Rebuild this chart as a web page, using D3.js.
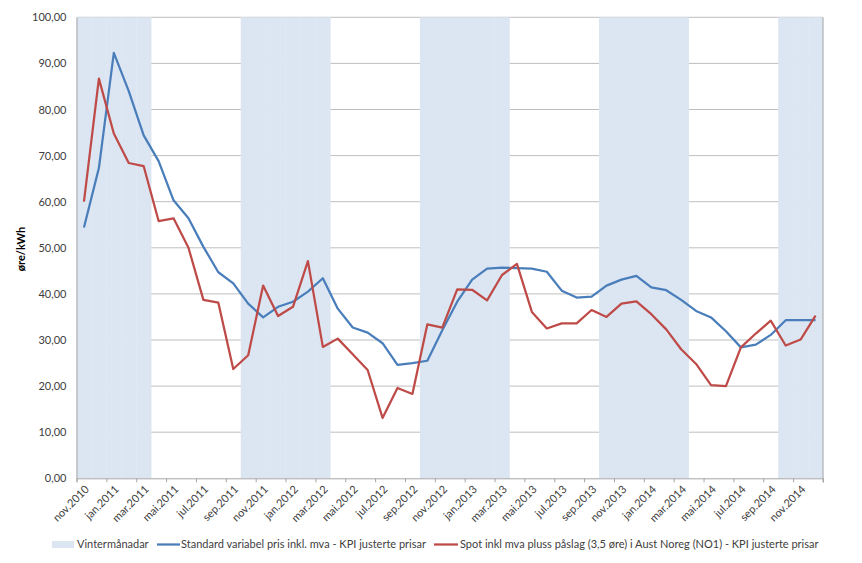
<!DOCTYPE html>
<html><head><meta charset="utf-8">
<script src="https://cdn.jsdelivr.net/npm/d3@7"></script>
<style>body{margin:0;background:#fff}svg{display:block}text{font-family:Lato,"Open Sans",sans-serif;fill:#404040}</style>
</head><body><div id="chart"></div>
<script>
const months = ["nov.2010","des.2010","jan.2011","feb.2011","mar.2011","apr.2011","mai.2011","jun.2011","jul.2011","aug.2011","sep.2011","okt.2011",
"nov.2011","des.2011","jan.2012","feb.2012","mar.2012","apr.2012","mai.2012","jun.2012","jul.2012","aug.2012","sep.2012","okt.2012",
"nov.2012","des.2012","jan.2013","feb.2013","mar.2013","apr.2013","mai.2013","jun.2013","jul.2013","aug.2013","sep.2013","okt.2013",
"nov.2013","des.2013","jan.2014","feb.2014","mar.2014","apr.2014","mai.2014","jun.2014","jul.2014","aug.2014","sep.2014","okt.2014",
"nov.2014","des.2014"];
const winter = [100,100,100,100,100,0,0,0,0,0,0,100,100,100,100,100,100,0,0,0,0,0,0,100,100,100,100,100,100,0,0,0,0,0,0,100,100,100,100,100,100,0,0,0,0,0,0,100,100,100];
const standard = [54.4,67.3,92.3,84.0,74.4,68.8,60.3,56.4,50.2,44.7,42.3,37.9,34.9,37.2,38.3,40.5,43.4,36.8,32.7,31.6,29.3,24.6,25.0,25.5,32.1,38.3,43.1,45.5,45.7,45.6,45.5,44.8,40.7,39.2,39.4,41.8,43.1,43.9,41.4,40.8,38.7,36.3,34.9,31.9,28.4,29.0,31.1,34.3,34.3,34.3];
const spot = [60.0,86.7,74.8,68.4,67.7,55.8,56.4,50.0,38.7,38.1,23.7,26.7,41.8,35.2,37.2,47.1,28.5,30.3,26.9,23.5,13.1,19.6,18.3,33.4,32.7,41.0,40.9,38.6,44.1,46.5,36.1,32.5,33.6,33.6,36.5,35.0,37.9,38.4,35.6,32.3,28.0,24.8,20.2,20.0,28.4,31.4,34.2,28.8,30.1,35.3];
const yTicks = [0,10,20,30,40,50,60,70,80,90,100];
const seriesNames = ["Vintermånadar","Standard variabel pris inkl. mva - KPI justerte prisar","Spot inkl mva pluss påslag (3,5 øre) i Aust Noreg (NO1) - KPI justerte prisar"];
const colors = {winter:"#DCE6F2", standard:"#4A7EBB", spot:"#BE4B48"};

const W=862,H=563, L=76.5, R=823, T=17.3, B=478.3;
const svg = d3.select("#chart").append("svg").attr("width",W).attr("height",H);
const x = d3.scaleBand().domain(d3.range(months.length)).range([L,R]).padding(0);
const y = d3.scaleLinear().domain([0,100]).range([B,T]);
const fmt = v => d3.format(".2f")(v).replace(".",",");

// gridlines
svg.append("g").selectAll("line").data(yTicks.filter(d=>d>0)).join("line")
  .attr("x1",L).attr("x2",R).attr("y1",d=>y(d)).attr("y2",d=>y(d))
  .attr("stroke","#BFBFBF").attr("stroke-width",1);
// winter bars
svg.append("g").selectAll("rect").data(winter.map((v,i)=>({v,i})).filter(d=>d.v>0)).join("rect")
  .attr("x",d=>x(d.i)).attr("width",x.bandwidth()+0.3).attr("y",d=>y(d.v)).attr("height",d=>y(0)-y(d.v))
  .attr("fill",colors.winter);

// y axis
const yAxis = d3.axisLeft(y).tickValues(yTicks).tickFormat(fmt).tickSize(0).tickPadding(10);
const gy = svg.append("g").attr("transform",`translate(${L},0)`).call(yAxis);
gy.select(".domain").attr("stroke","#A6A6A6");
gy.selectAll("text").style("font-size","11px").style("font-family","Lato, sans-serif").attr("fill","#404040");
// right line
svg.append("line").attr("x1",R).attr("x2",R).attr("y1",T).attr("y2",B+4).attr("stroke","#A6A6A6");

// x axis
const xb = d3.scaleLinear().domain([0,months.length]).range([L,R]);
const gx = svg.append("g").attr("transform",`translate(0,${B})`)
  .call(d3.axisBottom(xb).tickValues(d3.range(0,months.length+1,2)).tickFormat("").tickSize(4));
gx.select(".domain").attr("stroke","#A6A6A6");
gx.selectAll("line").attr("stroke","#A6A6A6");
svg.append("g").selectAll("text").data(months.map((m,i)=>({m,i})).filter(d=>d.i%2===0)).join("text")
  .attr("transform",d=>`translate(${x(d.i)+x.bandwidth()/2+3},${B+9}) rotate(-45)`)
  .attr("text-anchor","end").attr("dy","0.35em").style("font-size","11px").text(d=>d.m);

// y title
svg.append("text").attr("transform",`translate(25,249) rotate(-90)`).attr("text-anchor","middle")
  .style("font-size","11px").style("font-weight","bold").style("fill","#000").text("øre/kWh");

// lines
const line = d3.line().x((d,i)=>x(i)+x.bandwidth()/2).y(d=>y(d));
svg.append("path").datum(standard).attr("d",line).attr("fill","none").attr("stroke",colors.standard).attr("stroke-width",2.25).attr("stroke-linejoin","round");
svg.append("path").datum(spot).attr("d",line).attr("fill","none").attr("stroke",colors.spot).attr("stroke-width",2.25).attr("stroke-linejoin","round");

// legend
const ly = 544.5;
const lg = svg.append("g");
lg.append("rect").attr("x",52).attr("y",ly-3.5).attr("width",22).attr("height",7).attr("fill",colors.winter);
lg.append("text").attr("x",77).attr("y",ly).attr("dy","0.35em").style("font-size","11px").text(seriesNames[0]);
lg.append("line").attr("x1",157).attr("x2",180).attr("y1",ly).attr("y2",ly).attr("stroke",colors.standard).attr("stroke-width",2.25);
lg.append("text").attr("x",181).attr("y",ly).attr("dy","0.35em").style("font-size","11px").text(seriesNames[1]);
lg.append("line").attr("x1",434).attr("x2",458).attr("y1",ly).attr("y2",ly).attr("stroke",colors.spot).attr("stroke-width",2.25);
lg.append("text").attr("x",460).attr("y",ly).attr("dy","0.35em").style("font-size","11px").text(seriesNames[2]);
</script></body></html>
